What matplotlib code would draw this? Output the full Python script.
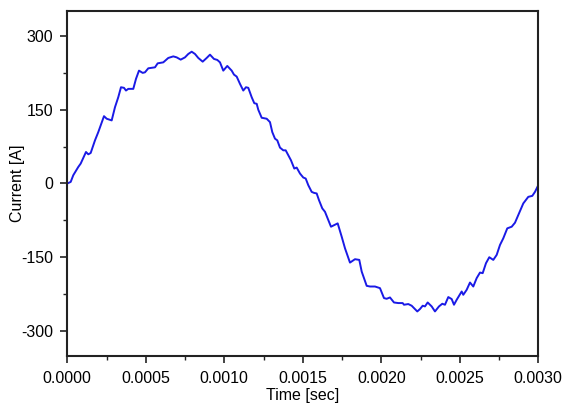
import numpy as np
import matplotlib
matplotlib.use("Agg")
import matplotlib.pyplot as plt
from matplotlib.ticker import MultipleLocator, FormatStrFormatter

plt.rcParams['font.family'] = ['Liberation Sans', 'DejaVu Sans']
plt.rcParams['axes.unicode_minus'] = False

# time in milliseconds
time_ms = [0.0000, 0.0217, 0.0382, 0.0701, 0.0854, 0.1191, 0.1338, 0.1490, 0.1764, 0.1975,
           0.2127, 0.2338, 0.2510, 0.2828, 0.3038, 0.3248, 0.3420, 0.3611, 0.3739, 0.3885,
           0.4204, 0.4376, 0.4567, 0.4803, 0.4949, 0.5159, 0.5586, 0.5758, 0.6115, 0.6433,
           0.6752, 0.6968, 0.7223, 0.7497, 0.7707, 0.7924, 0.8134, 0.8344, 0.8624, 0.8879,
           0.9089, 0.9344, 0.9554, 0.9726, 0.9936, 1.0191, 1.0471, 1.0618, 1.0790, 1.1000,
           1.1210, 1.1382, 1.1529, 1.1745, 1.1911, 1.2064, 1.2166, 1.2382, 1.2701, 1.2911,
           1.3057, 1.3229, 1.3376, 1.3548, 1.3758, 1.3911, 1.4076, 1.4248, 1.4459, 1.4611,
           1.4822, 1.5032, 1.5185, 1.5350, 1.5567, 1.5713, 1.5885, 1.6032, 1.6242, 1.6414,
           1.6624, 1.6796, 1.7006, 1.7223, 1.7478, 1.7688, 1.8006, 1.8325, 1.8599, 1.8752,
           1.9070, 1.9280, 1.9599, 1.9917, 2.0172, 2.0344, 2.0554, 2.0809, 2.1083, 2.1363,
           2.1446, 2.1720, 2.1936, 2.2146, 2.2293, 2.2465, 2.2637, 2.2783, 2.2955, 2.3210,
           2.3420, 2.3675, 2.3885, 2.4057, 2.4268, 2.4484, 2.4631, 2.4803, 2.5121, 2.5223,
           2.5439, 2.5650, 2.5860, 2.6076, 2.6287, 2.6459, 2.6669, 2.6879, 2.7134, 2.7350,
           2.7561, 2.7771, 2.8025, 2.8306, 2.8516, 2.8726, 2.9045, 2.9363, 2.9618, 2.9790,
           3.0000]

current_A = [0.0, 3.2, 16.8, 33.6, 40.4, 63.9, 59.2, 61.9, 87.5, 104.3,
             117.8, 136.6, 131.4, 128.0, 154.8, 175.1, 195.3, 194.1, 188.6, 192.0,
             192.0, 212.3, 229.0, 224.4, 225.6, 233.7, 235.7, 243.8, 245.8, 254.7,
             257.9, 255.9, 251.3, 255.9, 262.8, 267.4, 262.8, 254.7, 247.2, 254.7,
             261.4, 252.7, 250.7, 245.8, 229.0, 238.5, 229.0, 220.9, 216.9, 202.1,
             188.6, 195.3, 194.1, 175.1, 162.9, 161.7, 149.6, 133.4, 131.4, 124.5,
             104.3, 91.0, 87.5, 72.8, 67.3, 67.3, 57.2, 47.1, 30.3, 32.3,
             20.2, 12.1, 10.1, -3.4, -17.0, -19.0, -20.2, -33.8, -50.5, -57.4,
             -74.2, -87.7, -84.3, -80.9, -107.9, -131.4, -160.5, -153.6, -155.0, -178.7,
             -207.6, -209.0, -209.0, -212.3, -232.5, -233.9, -231.2, -241.4, -242.6, -242.6,
             -246.0, -244.6, -248.0, -254.7, -259.6, -254.7, -248.0, -249.4, -241.4, -249.4,
             -259.6, -249.4, -244.0, -246.0, -230.4, -234.5, -246.0, -235.9, -219.1, -225.8,
             -215.7, -200.9, -209.0, -192.0, -180.7, -181.9, -161.7, -149.6, -155.0, -144.9,
             -124.7, -111.2, -91.0, -87.7, -79.6, -64.1, -40.4, -27.1, -25.1, -17.0,
             -3.4]

x_ticks = [0.0000, 0.0005, 0.0010, 0.0015, 0.0020, 0.0025, 0.0030]
y_ticks = [-300, -150, 0, 150, 300]

t = np.array(time_ms) * 1e-3

fig = plt.figure(figsize=(5.64, 4.07), dpi=100)
ax = fig.add_axes([0.1193, 0.1253, 0.8351, 0.8477])
ax.plot(t, current_A, color='#1a1ae6', linewidth=1.4)

ax.set_xlim(0, 0.003)
ax.set_ylim(-350, 350)
ax.set_xticks(x_ticks)
ax.set_yticks(y_ticks)
ax.xaxis.set_major_formatter(FormatStrFormatter('%.4f'))
ax.xaxis.set_minor_locator(MultipleLocator(0.00025))
ax.yaxis.set_minor_locator(MultipleLocator(75))

ax.tick_params(axis='both', which='major', direction='out', length=5, width=1.2,
               labelsize=11.5, colors='#222222', labelcolor='black')
ax.tick_params(axis='x', which='major', pad=6)
ax.tick_params(axis='y', which='major', pad=5)
ax.tick_params(axis='both', which='minor', direction='out', length=3, width=1.0,
               colors='#222222')
for s in ax.spines.values():
    s.set_linewidth(1.5)
    s.set_color('#222222')

ax.set_xlabel('Time [sec]', fontsize=11.5)
ax.set_ylabel('Current [A]', fontsize=11.5)
ax.xaxis.set_label_coords(0.5, -0.093)
ax.yaxis.set_label_coords(-0.09, 0.5)

fig.savefig('out.png', dpi=100)
